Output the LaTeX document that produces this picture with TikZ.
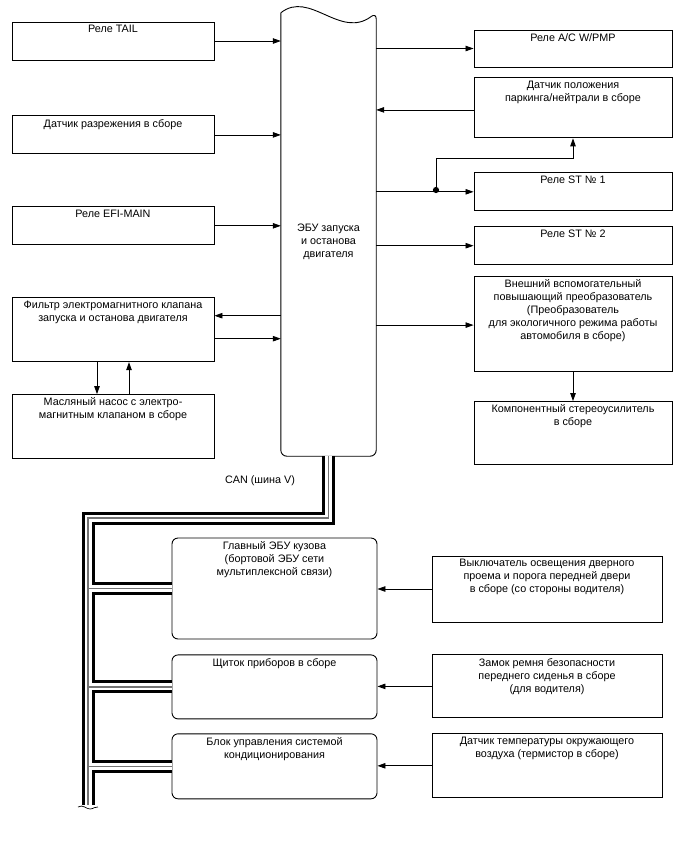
\documentclass[tikz,border=0pt]{standalone}
\usepackage{fontspec}
\setmainfont{Liberation Sans}
\usetikzlibrary{arrows.meta,positioning,calc}

\begin{document}
\begin{tikzpicture}[
  x=1pt, y=-1pt,
  node distance=15pt,
  box/.style={rectangle,draw,line width=0.9pt,fill=white,minimum width=202pt,minimum height=#1,inner sep=0pt},
  rbox/.style={box=#1,rounded corners=6pt,minimum width=205pt},
  txt/.style={anchor=north,align=center,font=\fontsize{10.8}{13}\selectfont,inner sep=3.5pt},
  arr/.style={-{Triangle[length=8pt,width=5.5pt]},line width=0.8pt},
  canouter/.style={line width=13pt,black},
  cangap/.style={line width=7pt,white},
  cancore/.style={line width=1.2pt,black!55}
]
\useasboundingbox (0,0) rectangle (688,852);

% left column
\node[box=38pt,label={[txt]north:Реле TAIL}] (tail) at (113,41) {};
\node[box=38pt,below=55pt of tail,label={[txt]north:Датчик разрежения в сборе}] (vac) {};
\node[box=38pt,below=52pt of vac,label={[txt]north:Реле EFI-MAIN}] (efi) {};
\node[box=64pt,below=52pt of efi,label={[txt]north:Фильтр электромагнитного клапана\\запуска и останова двигателя}] (filt) {};
\node[box=64pt,below=32pt of filt,label={[txt]north:Масляный насос с электро-\\магнитным клапаном в сборе}] (pump) {};

% engine stop and start ECU
\node[minimum width=95pt,minimum height=443pt,inner sep=0pt,
      label={[txt,anchor=center,yshift=-7pt]center:ЭБУ запуска\\и останова\\двигателя}] (ecu) at (328.5,234.5) {};
\draw[line width=0.9pt,rounded corners=6pt]
  (ecu.north west) .. controls ($(ecu.north west)+(29,-23)$) and ($(ecu.north east)+(-36,27)$) .. (ecu.north east)
  -- (ecu.south east) -- (ecu.south west) -- (ecu.north west);

% right column
\node[box=37pt,minimum width=198pt,label={[txt]north:Реле A/C W/PMP}] (acw) at (573,48.5) {};
\node[box=60pt,minimum width=198pt,below=10pt of acw,label={[txt]north:Датчик положения\\паркинга/нейтрали в сборе}] (park) {};
\node[box=38pt,minimum width=198pt,below=34pt of park,label={[txt]north:Реле ST № 1}] (st1) {};
\node[box=38pt,minimum width=198pt,below=15pt of st1,label={[txt]north:Реле ST № 2}] (st2) {};
\node[box=95pt,minimum width=198pt,below=11pt of st2,label={[txt]north:Внешний вспомогательный\\повышающий преобразователь\\(Преобразователь\\для экологичного режима работы\\автомобиля в сборе)}] (boost) {};
\node[box=63pt,minimum width=198pt,below=29pt of boost,label={[txt]north:Компонентный стереоусилитель\\в сборе}] (amp) {};

% CAN bus
\coordinate[below=62pt of ecu.south] (canknee);
\coordinate (canleft) at (88,518);
\coordinate (canend) at (88,805);
\node[txt,anchor=center] (canlbl) at (260,481) {CAN (шина V)};

% body side
\node[rbox=101pt,label={[txt]north:Главный ЭБУ кузова\\(бортовой ЭБУ сети\\мультиплексной связи)}] (body) at (274.5,588.5) {};
\node[rbox=64pt,below=15pt of body,label={[txt]north:Щиток приборов в сборе}] (meter) {};
\node[rbox=65pt,below=14pt of meter,label={[txt]north:Блок управления системой\\кондиционирования}] (aircon) {};

\node[box=66pt,minimum width=230pt,label={[txt]north:Выключатель освещения дверного\\проема и порога передней двери\\в сборе (со стороны водителя)}] (door) at (547,589) {};
\node[box=63pt,minimum width=230pt,below=32pt of door,label={[txt]north:Замок ремня безопасности\\переднего сиденья в сборе\\(для водителя)}] (belt) {};
\node[box=64pt,minimum width=230pt,below=15pt of belt,label={[txt]north:Датчик температуры окружающего\\воздуха (термистор в сборе)}] (temp) {};

\draw[canouter] (ecu.south) |- (canleft) -- (canend)
  (canleft |- body.west) -- (body.west) (canleft |- meter.west) -- (meter.west) (canleft |- aircon.west) -- (aircon.west);
\draw[cangap] (ecu.south) |- (canleft) -- (canend)
  (canleft |- body.west) -- (body.west) (canleft |- meter.west) -- (meter.west) (canleft |- aircon.west) -- (aircon.west);
\draw[cancore] (ecu.south) |- (canleft) -- (canend)
  (canleft |- body.west) -- (body.west) (canleft |- meter.west) -- (meter.west) (canleft |- aircon.west) -- (aircon.west);
\draw[line width=0.7pt] ($(canend)+(-10,2)$) .. controls ($(canend)+(-5,-1)$) and ($(canend)+(-2,4)$) .. ($(canend)+(2,4)$)
  .. controls ($(canend)+(6,4)$) and ($(canend)+(7,1)$) .. ($(canend)+(10,2)$);

% inputs to the ECU
\draw[arr] (tail.east) -- (tail.east -| ecu.west);
\draw[arr] (vac.east) -- (vac.east -| ecu.west);
\draw[arr] (efi.east) -- (efi.east -| ecu.west);
\draw[arr] ($(filt.east)+(0,9)$) -- ($(filt.east -| ecu.west)+(0,9)$);
\draw[arr] ($(filt.east -| ecu.west)+(0,-14)$) -- ($(filt.east)+(0,-14)$);
\draw[arr] ($(filt.south)+(-16,0)$) -- ($(pump.north)+(-16,0)$);
\draw[arr] ($(pump.north)+(16,0)$) -- ($(filt.south)+(16,0)$);

% outputs of the ECU
\draw[arr] (acw.west -| ecu.east) -- (acw.west);
\draw[arr] ($(park.west)+(0,2)$) -- ($(park.west -| ecu.east)+(0,2)$);
\draw[arr] (st1.west -| ecu.east) -- (st1.west);
\node[circle,fill,inner sep=2.2pt] (split) at (436,190) {};
\draw[arr] (split.center) |- ($(park.south)+(0,20)$) -- (park.south);
\draw[arr] (st2.west -| ecu.east) -- (st2.west);
\draw[arr] ($(boost.west -| ecu.east)+(0,1)$) -- ($(boost.west)+(0,1)$);
\draw[arr] (boost.south) -- (amp.north);

% switches to the body side
\draw[arr] (door.west) -- (door.west -| body.east);
\draw[arr] (belt.west) -- (belt.west -| meter.east);
\draw[arr] (temp.west) -- (temp.west -| aircon.east);
\end{tikzpicture}
\end{document}
